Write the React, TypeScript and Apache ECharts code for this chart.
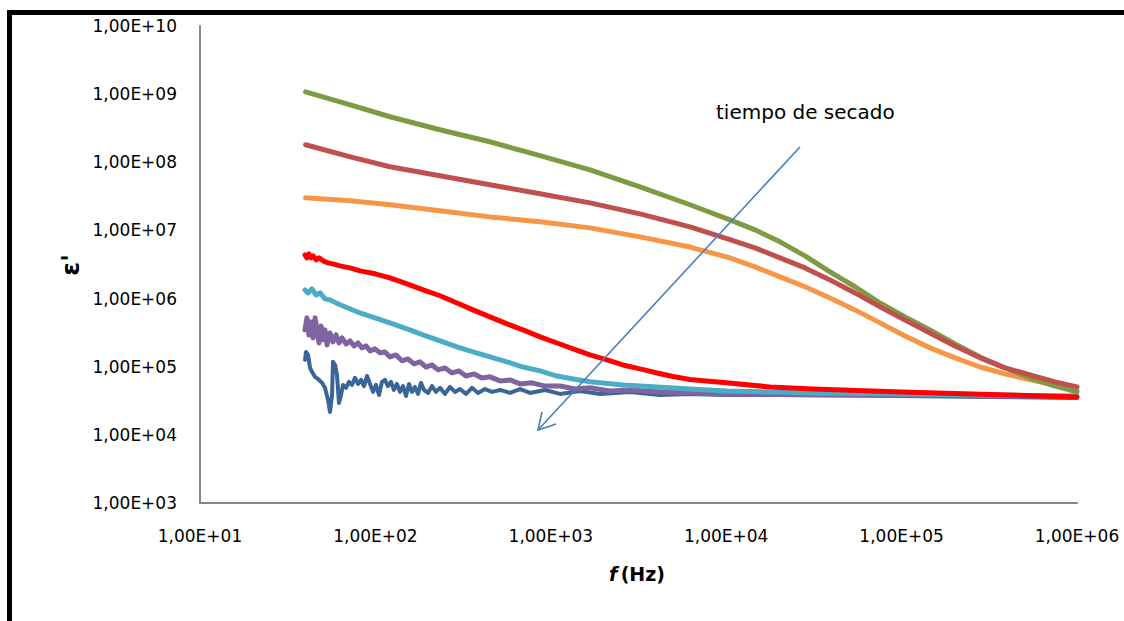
import React, { useEffect, useRef } from "react";
import * as echarts from "echarts";

// Frequencies (Hz) and permittivity values
const F_SMOOTH = [40, 72, 121, 233, 449, 868, 1673, 3225, 6218, 10500, 14600, 20260, 28130, 39070, 54240, 75330, 104600, 145200, 201600, 280000, 388800, 539800, 749700, 1000000];
const GREEN_V = [1.08e9, 6.98e8, 4.66e8, 3.0e8, 2.0e8, 1.25e8, 7.76e7, 4.37e7, 2.38e7, 1.43e7, 1.02e7, 6.8e6, 4.24e6, 2.47e6, 1.49e6, 8.6e5, 5.39e5, 3.47e5, 2.16e5, 1.39e5, 9.6e4, 6.85e4, 5.2e4, 4.27e4];
const BROWN_V = [1.81e8, 1.2e8, 8.6e7, 6.34e7, 4.68e7, 3.45e7, 2.54e7, 1.75e7, 1.13e7, 7.3e6, 5.55e6, 3.96e6, 2.82e6, 1.88e6, 1.21e6, 7.55e5, 4.86e5, 3.13e5, 2.02e5, 1.35e5, 9.6e4, 7.6e4, 6.0e4, 5.05e4];
const ORANGE_V = [3.01e7, 2.72e7, 2.38e7, 1.94e7, 1.58e7, 1.34e7, 1.09e7, 8.05e6, 5.7e6, 3.96e6, 2.92e6, 2.08e6, 1.49e6, 1.02e6, 6.82e5, 4.4e5, 2.83e5, 1.89e5, 1.35e5, 9.9e4, 7.84e4, 6.4e4, 5.4e4, 4.56e4];

const RED_F = [39.7, 40.7, 41.8, 43.0, 44.1, 45.9, 47.7, 50.3, 53.7, 57.3, 62.8, 71.6, 81.7, 99.5, 121, 151.4, 187, 233.6, 292, 360, 450, 562.7, 694, 868, 1084, 1339, 1673, 2091, 2580, 3225, 4033, 4974, 6218, 8000, 10000, 17770, 31300, 100000, 320000, 1000000];
const RED_V = [4.38e6, 3.96e6, 4.53e6, 3.96e6, 4.24e6, 3.7e6, 3.96e6, 3.58e6, 3.34e6, 3.23e6, 3.02e6, 2.82e6, 2.55e6, 2.31e6, 2.01e6, 1.64e6, 1.34e6, 1.1e6, 8.6e5, 6.82e5, 5.39e5, 4.25e5, 3.47e5, 2.74e5, 2.23e5, 1.83e5, 1.49e5, 1.26e5, 1.06e5, 9.3e4, 8.1e4, 7.2e4, 6.5e4, 6.1e4, 5.8e4, 5.05e4, 4.7e4, 4.27e4, 3.92e4, 3.6e4];

const CYAN_F = [39.7, 41.3, 43.5, 45.9, 48.3, 51.6, 55.1, 62.8, 78.5, 99.5, 121, 151.4, 187, 233.6, 292, 360, 450, 562.7, 694, 868, 1084, 1339, 1673, 2580, 4033, 6218, 10000, 31300, 100000, 320000, 1000000];
const CYAN_V = [1.34e6, 1.21e6, 1.39e6, 1.13e6, 1.21e6, 9.9e5, 9.57e5, 8.1e5, 6.4e5, 5.21e5, 4.4e5, 3.59e5, 2.93e5, 2.39e5, 1.95e5, 1.65e5, 1.39e5, 1.18e5, 9.9e4, 8.67e4, 7.3e4, 6.6e4, 6.0e4, 5.4e4, 5.05e4, 4.7e4, 4.4e4, 4.12e4, 3.99e4, 3.85e4, 3.72e4];

const PURPLE_F = [39.7, 40.7, 41.8, 43.0, 44.1, 45.3, 46.5, 47.7, 49.0, 50.3, 51.6, 53.0, 55.1, 57.3, 59.6, 62.0, 64.5, 68.0, 71.6, 75.5, 79.6, 83.9, 88.4, 93.2, 99.5, 106.2, 113.4, 121.1, 131.0, 141.8, 153.4, 166.0, 179.6, 194.3, 210.3, 227.5, 249.4, 273.4, 299.6, 328.5, 365.0, 405.4, 450.2, 513.3, 585.4, 667.6, 781.5, 926.7, 1129, 1374, 1673, 2175, 2829, 4195, 6218, 10000, 31300, 100000, 320000, 1000000];
const PURPLE_V = [3.47e5, 5.21e5, 2.93e5, 4.55e5, 2.65e5, 5.21e5, 3.47e5, 2.23e5, 3.97e5, 2.48e5, 3.47e5, 2.09e5, 3.13e5, 2.31e5, 2.93e5, 2.23e5, 2.65e5, 2.16e5, 2.39e5, 2.02e5, 2.23e5, 1.89e5, 2.02e5, 1.71e5, 1.83e5, 1.6e5, 1.65e5, 1.39e5, 1.49e5, 1.22e5, 1.3e5, 1.1e5, 1.18e5, 9.9e4, 1.06e5, 8.98e4, 9.6e4, 8.1e4, 8.67e4, 7.3e4, 7.84e4, 6.85e4, 7.1e4, 6.19e4, 6.4e4, 5.59e4, 5.8e4, 5.2e4, 5.2e4, 4.7e4, 4.9e4, 4.4e4, 4.56e4, 4.27e4, 4.12e4, 3.99e4, 3.85e4, 3.85e4, 3.72e4, 3.6e4];

const DARK_F = [39.7, 40.2, 41.3, 42.4, 43.5, 45.3, 47.1, 49.6, 51.6, 53.7, 55.1, 56.6, 57.3, 58.9, 60.4, 62.0, 63.7, 65.4, 68.0, 70.7, 73.5, 76.5, 79.6, 82.8, 86.1, 89.6, 93.2, 96.9, 100.8, 104.8, 109.0, 113.4, 117.9, 122.7, 127.6, 132.7, 138.1, 143.6, 149.4, 155.4, 161.6, 168.1, 175.0, 182.0, 189.3, 199.5, 210.3, 221.6, 233.6, 249.4, 266.3, 284.3, 303.6, 328.5, 355.3, 384.6, 421.7, 462.3, 513.3, 585.4, 667.6, 761.3, 926.7, 1129, 1467, 1908, 2829, 4195, 6218, 10000, 31300, 100000, 320000, 1000000];
const DARK_V = [1.26e5, 1.65e5, 1.49e5, 9.6e4, 8.39e4, 7.1e4, 6.6e4, 5.8e4, 4.9e4, 3.25e4, 2.17e4, 3.85e4, 1.18e5, 1.06e5, 7.6e4, 2.94e4, 3.85e4, 5.4e4, 4.9e4, 6.0e4, 5.4e4, 6.85e4, 5.59e4, 6.4e4, 5.2e4, 7.3e4, 5.59e4, 4.27e4, 5.4e4, 3.85e4, 6.0e4, 6.4e4, 5.2e4, 6.0e4, 4.56e4, 5.59e4, 4.27e4, 5.2e4, 3.72e4, 5.59e4, 4.27e4, 5.05e4, 3.99e4, 5.8e4, 4.56e4, 4.12e4, 5.2e4, 4.27e4, 4.9e4, 3.99e4, 5.05e4, 4.27e4, 4.7e4, 3.99e4, 4.9e4, 4.12e4, 4.7e4, 4.27e4, 4.56e4, 4.12e4, 4.7e4, 4.12e4, 4.56e4, 3.99e4, 4.4e4, 3.99e4, 4.27e4, 3.85e4, 3.99e4, 3.85e4, 3.85e4, 3.72e4, 3.6e4, 3.48e4];

const ANNOTATION = "tiempo de secado";
const Y_NAME = "ε'";

const zip = (f: number[], v: number[]) => {
  const n = Math.min(f.length, v.length);
  const out: number[][] = [];
  for (let i = 0; i < n; i++) out.push([f[i], v[i]]);
  return out;
};

const fmt = (v: number) => {
  const e = Math.round(Math.log10(v));
  return "1,00E+" + String(e).padStart(2, "0");
};

const FONT = "'DejaVu Sans', sans-serif";

export default function App() {
  const ref = useRef<HTMLDivElement>(null);
  useEffect(() => {
    if (!ref.current) return;
    const chart = echarts.init(ref.current, undefined, { renderer: "svg" });
    const line = (name: string, data: number[][], color: string, width: number) => ({
      name,
      type: "line",
      data,
      symbol: "none",
      smooth: false,
      lineStyle: { color, width, cap: "round", join: "round" },
      itemStyle: { color },
      z: 2,
    });
    chart.setOption({
      animation: false,
      backgroundColor: "#ffffff",
      grid: { left: 200, right: 47, top: 26, bottom: 118, containLabel: false },
      xAxis: {
        type: "log",
        logBase: 10,
        min: 10,
        max: 1000000,
        axisLine: { show: true, lineStyle: { color: "#868686", width: 2 } },
        axisTick: { show: false },
        splitLine: { show: false },
        minorTick: { show: false },
        axisLabel: {
          formatter: fmt,
          color: "#000",
          fontFamily: FONT,
          fontSize: 17,
          margin: 24,
          showMinLabel: true,
          showMaxLabel: true,
        },
      },
      yAxis: {
        type: "log",
        logBase: 10,
        min: 1000,
        max: 1e10,
        axisLine: { show: true, lineStyle: { color: "#868686", width: 2 } },
        axisTick: { show: false },
        splitLine: { show: false },
        axisLabel: {
          formatter: fmt,
          color: "#000",
          fontFamily: FONT,
          fontSize: 17,
          margin: 23,
          showMinLabel: true,
          showMaxLabel: true,
        },
      },
      series: [
        line("s1", zip(DARK_F, DARK_V), "#3A6598", 4),
        line("s2", zip(PURPLE_F, PURPLE_V), "#8064A2", 5),
        line("s3", zip(CYAN_F, CYAN_V), "#4BACC6", 5),
        line("s4", zip(RED_F, RED_V), "#FF0000", 5),
        line("s5", zip(F_SMOOTH, ORANGE_V), "#F79646", 5),
        line("s6", zip(F_SMOOTH, GREEN_V), "#7E9B43", 5),
        line("s7", zip(F_SMOOTH, BROWN_V), "#C0504D", 5),
      ],
      graphic: [
        {
          type: "rect",
          z: 200,
          silent: true,
          shape: { x: 9.5, y: 12.5, width: 1300, height: 800 },
          style: { fill: "none", stroke: "#000", lineWidth: 5 },
        },
        {
          type: "line",
          z: 150,
          shape: { x1: 800, y1: 147, x2: 538, y2: 430 },
          style: { stroke: "#4A7EBB", lineWidth: 1.6 },
        },
        {
          type: "polyline",
          z: 150,
          shape: { points: [[542, 412], [538, 430], [556, 424]] },
          style: { stroke: "#4A7EBB", lineWidth: 1.6, fill: "none" },
        },
        {
          type: "text",
          z: 150,
          x: 716,
          y: 112,
          style: {
            text: ANNOTATION,
            fontFamily: FONT,
            fontSize: 20,
            fill: "#000",
            align: "left",
            verticalAlign: "middle",
          },
        },
        {
          type: "text",
          z: 150,
          x: 70,
          y: 265,
          rotation: Math.PI / 2,
          style: {
            text: Y_NAME,
            fontFamily: FONT,
            fontWeight: "bold",
            fontSize: 25,
            fill: "#000",
            align: "center",
            verticalAlign: "middle",
          },
        },
        {
          type: "text",
          z: 150,
          x: 637,
          y: 574,
          style: {
            text: "{i|f} {n|(Hz)}",
            align: "center",
            verticalAlign: "middle",
            rich: {
              i: { fontFamily: FONT, fontWeight: "bold", fontStyle: "italic", fontSize: 19, fill: "#000" },
              n: { fontFamily: FONT, fontWeight: "bold", fontSize: 19, fill: "#000" },
            },
          },
        },
      ],
    });
    return () => chart.dispose();
  }, []);
  return (
    <div
      ref={ref}
      style={{ position: "fixed", left: 0, top: 0, width: 1124, height: 621, background: "#fff" }}
    />
  );
}
